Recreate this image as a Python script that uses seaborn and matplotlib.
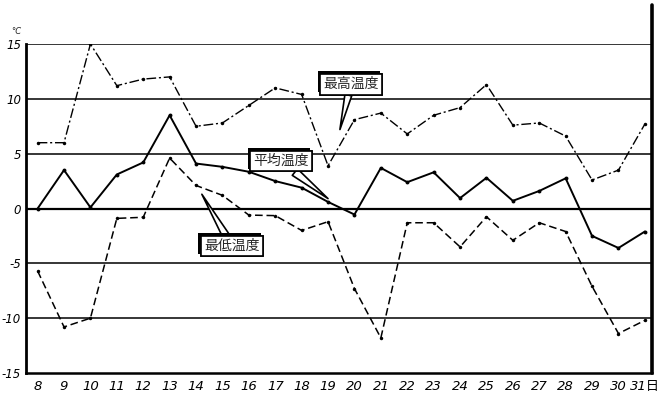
import matplotlib
matplotlib.use("Agg")
import matplotlib.pyplot as plt
import matplotlib.patheffects as pe
import seaborn as sns
import pandas as pd

days = list(range(8, 32))
day_labels = [str(d) for d in range(8, 31)] + ["31日"]
max_temp = [6.0, 6.0, 15.0, 11.2, 11.8, 12.0, 7.5, 7.8, 9.4, 11.0, 10.4, 3.9,
            8.1, 8.7, 6.8, 8.5, 9.2, 11.3, 7.6, 7.8, 6.6, 2.6, 3.5, 7.7]
mean_temp = [0.0, 3.5, 0.1, 3.1, 4.2, 8.5, 4.1, 3.8, 3.35, 2.5, 1.9, 0.6,
             -0.55, 3.7, 2.4, 3.3, 0.95, 2.8, 0.7, 1.6, 2.75, -2.5, -3.6, -2.1]
min_temp = [-5.7, -10.8, -10.0, -0.9, -0.8, 4.6, 2.1, 1.2, -0.6, -0.65, -2.0, -1.2,
            -7.3, -11.8, -1.3, -1.3, -3.5, -0.75, -2.9, -1.3, -2.1, -7.1, -11.4, -10.2]
y_ticks = [-15, -10, -5, 0, 5, 10, 15]
labels = {"max": "最高温度", "mean": "平均温度", "min": "最低温度"}

sns.set_theme(style="white")
plt.rcParams['font.family'] = ['Noto Sans CJK JP', 'DejaVu Sans']

W, H = 665, 396
fig = plt.figure(figsize=(W / 100, H / 100), dpi=100)
ax = fig.add_axes([26 / W, (H - 373) / H, (652 - 26) / W, (373 - 44) / H])

df = pd.DataFrame({"day": days, "max": max_temp, "mean": mean_temp, "min": min_temp})

for yv in y_ticks[1:]:
    ax.axhline(yv, color="black", lw=1.6 if yv == 0 else 1.1, zorder=1)

sns.lineplot(data=df, x="day", y="max", ax=ax, color="black", lw=1.0,
             linestyle=(0, (7, 2, 1.5, 2)), marker="o", markersize=2.5,
             markeredgewidth=0, zorder=3)
sns.lineplot(data=df, x="day", y="mean", ax=ax, color="black", lw=1.4,
             linestyle="-", marker="o", markersize=2.8, markeredgewidth=0, zorder=3)
sns.lineplot(data=df, x="day", y="min", ax=ax, color="black", lw=1.1,
             linestyle=(0, (5, 2.5)), marker="o", markersize=2.5,
             markeredgewidth=0, zorder=3)

ax.set_xlim(7.56, 31.27)
ax.set_ylim(-15, 15)
ax.set_xticks(days)
ax.set_xticklabels(day_labels)
ax.set_yticks(y_ticks)
ax.set_yticklabels([str(v) for v in y_ticks])
for lab in ax.get_xticklabels():
    lab.set_family(['DejaVu Sans', 'Noto Sans CJK JP'])
    lab.set_fontstyle("oblique")
    lab.set_fontsize(9.5)
for lab in ax.get_yticklabels():
    lab.set_family(['DejaVu Sans'])
    lab.set_fontstyle("oblique")
    lab.set_fontsize(8.5)
ax.tick_params(axis="x", direction="in", length=3, width=1, pad=5, colors="black")
ax.tick_params(axis="y", direction="inout", length=5, width=1, pad=1, colors="black")
ax.set_xlabel("")
ax.set_ylabel("")
for s in ["top", "right"]:
    ax.spines[s].set_visible(False)
ax.spines["left"].set_linewidth(2.0)
ax.spines["bottom"].set_linewidth(1.8)
ax.spines["left"].set_color("black")
ax.spines["bottom"].set_color("black")

# right border line
fig.add_artist(plt.Line2D([652 / W, 652 / W], [(H - 373) / H, (H - 5) / H],
                          transform=fig.transFigure, color="black", lw=2.6))
fig.text(16 / W, (H - 31) / H, "°C", fontsize=6, fontstyle="oblique",
         ha="center", va="center", family=['DejaVu Sans'])

def callout(text, box_xy, tip_xy, tw):
    t = ax.annotate(text, xy=tip_xy, xytext=box_xy, textcoords="data",
                    ha="center", va="center", fontsize=10, zorder=6,
                    bbox=dict(boxstyle="square,pad=0.25", fc="white", ec="black", lw=1.2),
                    arrowprops=dict(arrowstyle=f"wedge,tail_width={tw}", fc="white",
                                    ec="black", lw=1.2, shrinkA=0, shrinkB=0))
    t.get_bbox_patch().set_path_effects([
        pe.withSimplePatchShadow(offset=(-1.6, 1.6), shadow_rgbFace="black", alpha=1.0),
        pe.Normal()])
    return t

callout(labels["max"], (19.87, 11.35), (19.45, 7.2), 0.5)
callout(labels["mean"], (17.22, 4.33), (19.0, 0.9), 0.6)
callout(labels["min"], (15.36, -3.42), (14.22, 1.3), 0.5)

fig.savefig("out.png", dpi=100)
